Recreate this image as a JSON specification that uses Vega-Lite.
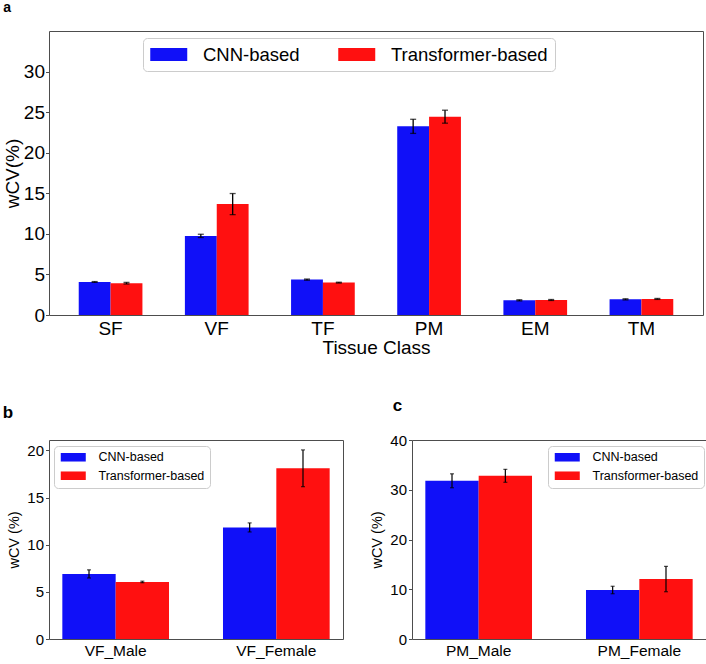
{
  "$schema": "https://vega.github.io/schema/vega-lite/v6.json",
  "padding": {"left": 2, "top": 0, "right": 0, "bottom": 0},
  "background": "white",
  "config": {
    "font": "Liberation Sans",
    "view": {"stroke": "#4d4d4d", "strokeWidth": 1},
    "axis": {
      "labelColor": "black",
      "titleColor": "black",
      "titleFontWeight": "normal",
      "domain": false,
      "grid": false,
      "tickColor": "#4d4d4d",
      "tickSize": 3.5,
      "tickWidth": 1
    },
    "axisX": {"ticks": false, "labelAngle": 0, "labelPadding": 4},
    "axisY": {"labelPadding": 2},
    "title": {"fontWeight": "bold", "color": "black", "anchor": "start", "frame": "bounds"},
    "legend": {
      "title": null,
      "orient": "none",
      "strokeColor": "#cccccc",
      "fillColor": "white",
      "cornerRadius": 4,
      "labelColor": "black",
      "symbolStrokeWidth": 0,
      "symbolOpacity": 1
    }
  },
  "datasets": {
    "tissue": [
      {"tissue": "SF", "model": "CNN-based", "value": 4.07, "err": 0.05},
      {"tissue": "SF", "model": "Transformer-based", "value": 3.92, "err": 0.1},
      {"tissue": "VF", "model": "CNN-based", "value": 9.75, "err": 0.2},
      {"tissue": "VF", "model": "Transformer-based", "value": 13.67, "err": 1.3},
      {"tissue": "TF", "model": "CNN-based", "value": 4.36, "err": 0.07},
      {"tissue": "TF", "model": "Transformer-based", "value": 3.99, "err": 0.05},
      {"tissue": "PM", "model": "CNN-based", "value": 23.25, "err": 0.87},
      {"tissue": "PM", "model": "Transformer-based", "value": 24.44, "err": 0.8},
      {"tissue": "EM", "model": "CNN-based", "value": 1.81, "err": 0.07},
      {"tissue": "EM", "model": "Transformer-based", "value": 1.85, "err": 0.06},
      {"tissue": "TM", "model": "CNN-based", "value": 1.93, "err": 0.07},
      {"tissue": "TM", "model": "Transformer-based", "value": 1.98, "err": 0.06}
    ],
    "vf": [
      {"group": "VF_Male", "model": "CNN-based", "value": 6.9, "err": 0.43},
      {"group": "VF_Male", "model": "Transformer-based", "value": 6.05, "err": 0.08},
      {"group": "VF_Female", "model": "CNN-based", "value": 11.83, "err": 0.48},
      {"group": "VF_Female", "model": "Transformer-based", "value": 18.1, "err": 1.95}
    ],
    "pm": [
      {"group": "PM_Male", "model": "CNN-based", "value": 31.8, "err": 1.4},
      {"group": "PM_Male", "model": "Transformer-based", "value": 32.8, "err": 1.3},
      {"group": "PM_Female", "model": "CNN-based", "value": 9.85, "err": 0.75},
      {"group": "PM_Female", "model": "Transformer-based", "value": 12.05, "err": 2.55}
    ]
  },
  "resolve": {"scale": {"color": "independent", "xOffset": "independent"}, "legend": {"color": "independent"}},
  "spacing": 38,
  "vconcat": [
    {
      "title": {"text": "a", "fontSize": 14, "offset": 16},
      "width": 654,
      "height": 284,
      "data": {"name": "tissue"},
      "encoding": {
        "x": {
          "field": "tissue", "type": "nominal",
          "sort": ["SF", "VF", "TF", "PM", "EM", "TM"],
          "scale": {"paddingInner": 0.4, "paddingOuter": 0.28},
          "axis": {"title": "Tissue Class", "labelFontSize": 19, "titleFontSize": 19, "titlePadding": 0}
        },
        "xOffset": {
          "field": "model", "type": "nominal",
          "sort": ["CNN-based", "Transformer-based"],
          "scale": {"paddingInner": 0, "paddingOuter": 0}
        }
      },
      "layer": [
        {
          "mark": {"type": "bar"},
          "encoding": {
            "y": {
              "field": "value", "type": "quantitative",
              "scale": {"domain": [0, 35], "nice": false},
              "axis": {"title": "wCV(%)", "values": [0, 5, 10, 15, 20, 25, 30], "labelFontSize": 19, "titleFontSize": 19, "titlePadding": 1, "labelPadding": 1}
            },
            "color": {
              "field": "model", "type": "nominal",
              "scale": {"domain": ["CNN-based", "Transformer-based"], "range": ["#1010f8", "#ff1010"]},
              "legend": {
                "direction": "horizontal",
                "legendX": 94, "legendY": 7,
                "symbolType": "M-1,-0.7H3V0.7H-1Z",
                "symbolSize": 342,
                "labelFontSize": 18.5,
                "labelOffset": 34,
                "columnPadding": 38,
                "padding": 7
              }
            }
          }
        },
        {
          "mark": {"type": "errorbar", "ticks": {"size": 6, "thickness": 1.3, "color": "black"}, "rule": {"strokeWidth": 1.3, "color": "black"}},
          "encoding": {
            "y": {"field": "value", "type": "quantitative", "scale": {"domain": [0, 35], "nice": false}, "axis": {"title": "wCV(%)"}},
            "yError": {"field": "err"}
          }
        }
      ]
    },
    {
      "resolve": {"scale": {"color": "independent", "xOffset": "independent"}, "legend": {"color": "independent"}},
      "spacing": 25,
      "hconcat": [
        {
          "title": {"text": "b", "fontSize": 17, "offset": 18, "dx": -4},
          "width": 294,
          "height": 199,
          "data": {"name": "vf"},
          "encoding": {
            "x": {
              "field": "group", "type": "nominal",
              "sort": ["VF_Male", "VF_Female"],
              "scale": {"paddingInner": 0.336, "paddingOuter": 0.083},
              "axis": {"title": null, "labelFontSize": 15.5}
            },
            "xOffset": {
              "field": "model", "type": "nominal",
              "sort": ["CNN-based", "Transformer-based"],
              "scale": {"paddingInner": 0, "paddingOuter": 0}
            }
          },
          "layer": [
            {
              "mark": {"type": "bar"},
              "encoding": {
                "y": {
                  "field": "value", "type": "quantitative",
                  "scale": {"domain": [0, 21.1], "nice": false},
                  "axis": {"title": "wCV (%)", "values": [0, 5, 10, 15, 20], "labelFontSize": 15, "titleFontSize": 14.5, "titlePadding": 5}
                },
                "color": {
                  "field": "model", "type": "nominal",
                  "scale": {"domain": ["CNN-based", "Transformer-based"], "range": ["#1010f8", "#ff1010"]},
                  "legend": {
                    "direction": "vertical",
                    "legendX": 5, "legendY": 6,
                    "symbolType": "M-1,-0.95H4.56V0.95H-1Z",
                    "symbolSize": 81,
                    "labelFontSize": 12.5,
                    "labelOffset": 27,
                    "rowPadding": 5.5,
                    "padding": 5
                  }
                }
              }
            },
            {
              "mark": {"type": "errorbar", "ticks": {"size": 4, "thickness": 1.2, "color": "black"}, "rule": {"strokeWidth": 1.2, "color": "black"}},
              "encoding": {
                "y": {"field": "value", "type": "quantitative", "scale": {"domain": [0, 21.1], "nice": false}, "axis": {"title": "wCV (%)"}},
                "yError": {"field": "err"}
              }
            }
          ]
        },
        {
          "title": {"text": "c", "fontSize": 17, "offset": 18, "dx": 23},
          "width": 294,
          "height": 199,
          "data": {"name": "pm"},
          "encoding": {
            "x": {
              "field": "group", "type": "nominal",
              "sort": ["PM_Male", "PM_Female"],
              "scale": {"paddingInner": 0.336, "paddingOuter": 0.083},
              "axis": {"title": null, "labelFontSize": 15.5}
            },
            "xOffset": {
              "field": "model", "type": "nominal",
              "sort": ["CNN-based", "Transformer-based"],
              "scale": {"paddingInner": 0, "paddingOuter": 0}
            }
          },
          "layer": [
            {
              "mark": {"type": "bar"},
              "encoding": {
                "y": {
                  "field": "value", "type": "quantitative",
                  "scale": {"domain": [0, 40], "nice": false},
                  "axis": {"title": "wCV (%)", "values": [0, 10, 20, 30, 40], "labelFontSize": 15, "titleFontSize": 14.5, "titlePadding": 5}
                },
                "color": {
                  "field": "model", "type": "nominal",
                  "scale": {"domain": ["CNN-based", "Transformer-based"], "range": ["#1010f8", "#ff1010"]},
                  "legend": {
                    "direction": "vertical",
                    "legendX": 136, "legendY": 6,
                    "symbolType": "M-1,-0.95H4.56V0.95H-1Z",
                    "symbolSize": 81,
                    "labelFontSize": 12.5,
                    "labelOffset": 27,
                    "rowPadding": 5.5,
                    "padding": 5
                  }
                }
              }
            },
            {
              "mark": {"type": "errorbar", "ticks": {"size": 4, "thickness": 1.2, "color": "black"}, "rule": {"strokeWidth": 1.2, "color": "black"}},
              "encoding": {
                "y": {"field": "value", "type": "quantitative", "scale": {"domain": [0, 40], "nice": false}, "axis": {"title": "wCV (%)"}},
                "yError": {"field": "err"}
              }
            }
          ]
        }
      ]
    }
  ]
}
